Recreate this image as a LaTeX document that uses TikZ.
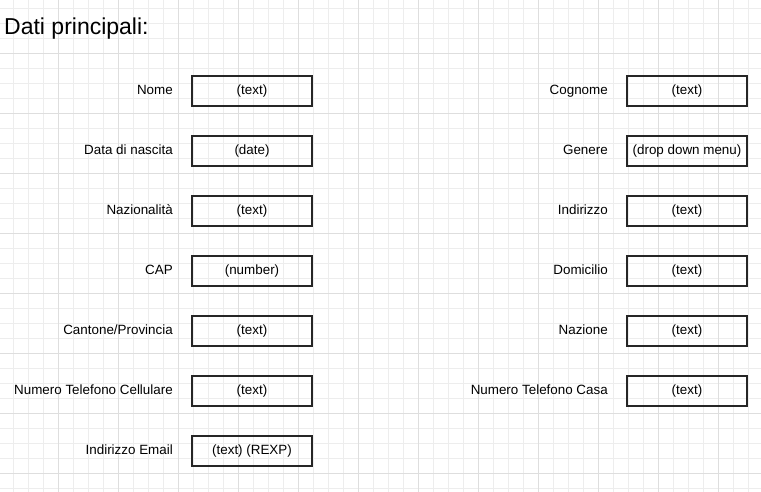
\documentclass[tikz,border=0pt]{standalone}
\usepackage{fontspec}
\setmainfont{Liberation Sans}
\begin{document}
\begin{tikzpicture}[x=1bp,y=-1bp,
  minorgrid/.style={draw=black!7,line width=0.8bp},
  majorgrid/.style={draw=black!13,line width=0.8bp},
  field/.style={draw=black!85,line width=1.6bp,minimum width=120bp,minimum height=30bp,inner sep=0pt,text height=6.8bp,text depth=0pt,font=\fontsize{13.4bp}{15bp}\selectfont},
  lbl/.style={anchor=base east,inner sep=0pt,font=\fontsize{13.4bp}{15bp}\selectfont}]
\useasboundingbox (0,0) rectangle (761,492);
\fill[white] (0,0) rectangle (761,492);
\foreach \k in {0,...,49} {
  \draw[minorgrid] ({13.33+15*\k},0) -- ({13.33+15*\k},492);
}
\foreach \k in {0,...,32} {
  \draw[minorgrid] (0,{8.33+15*\k}) -- (761,{8.33+15*\k});
}
\foreach \k in {-1,...,12} {
  \draw[majorgrid] ({58.33+60*\k},0) -- ({58.33+60*\k},492);
}
\foreach \k in {-1,...,8} {
  \draw[majorgrid] (0,{53.33+60*\k}) -- (761,{53.33+60*\k});
}
\node[anchor=base west,inner sep=0pt,font=\fontsize{23bp}{27bp}\selectfont] (title) at (4,35) {Dati principali:};
% left column
\foreach \i/\l/\t in {0/Nome/(text),1/Data di nascita/(date),2/Nazionalità/(text),3/CAP/(number),4/Cantone\slash Provincia/(text),5/Numero Telefono Cellulare/(text),6/Indirizzo Email/(text) (REXP)} {
  \node[lbl] (l\i) at (173,{91+60*\i+3.4}) {\l};
  \node[field] (f\i) at (252,{91+60*\i}) {\t};
}
% right column
\foreach \i/\l/\t in {0/Cognome/(text),1/Genere/(drop down menu),2/Indirizzo/(text),3/Domicilio/(text),4/Nazione/(text),5/Numero Telefono Casa/(text)} {
  \node[lbl] (r\i) at (608,{91+60*\i+3.4}) {\l};
  \node[field] (g\i) at (687,{91+60*\i}) {\t};
}
\end{tikzpicture}
\end{document}
